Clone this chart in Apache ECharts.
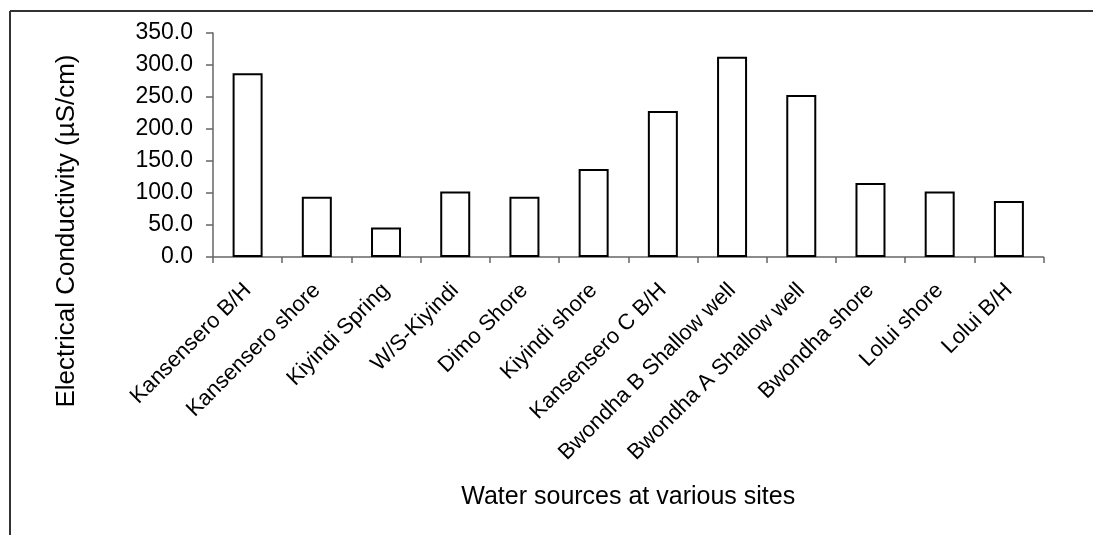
<!DOCTYPE html>
<html>
<head>
<meta charset="utf-8">
<script src="https://cdn.jsdelivr.net/npm/echarts@6/dist/echarts.min.js"></script>
<style>html,body{margin:0;padding:0;background:#fff;}#c{width:1093px;height:535px;}</style>
</head>
<body>
<div id="c"></div>
<script>
var categories = ['Kansensero B/H','Kansensero shore','Kiyindi Spring','W/S-Kiyindi','Dimo Shore','Kiyindi shore','Kansensero C B/H','Bwondha B Shallow well','Bwondha A Shallow well','Bwondha shore','Lolui shore','Lolui B/H'];
var conductivity = [287, 94, 46, 102.5, 94, 137.5, 228, 313, 253, 115.5, 102.5, 87.5];
var yTitle = 'Electrical Conductivity (µS/cm)';
var xTitle = 'Water sources at various sites';

var chart = echarts.init(document.getElementById('c'), null, {renderer: 'canvas'});
var font = 'Liberation Sans, Arial, sans-serif';
chart.setOption({
  animation: false,
  backgroundColor: '#fff',
  grid: {left: 213, right: 49.5, top: 33, bottom: 278, containLabel: false},
  xAxis: {
    type: 'category',
    data: categories,
    boundaryGap: true,
    name: xTitle,
    nameLocation: 'middle',
    nameGap: 228,
    nameTextStyle: {fontFamily: font, fontSize: 25, color: '#000'},
    axisLine: {lineStyle: {color: '#666', width: 1.5}},
    axisTick: {show: true, length: 6, inside: false, alignWithLabel: false, lineStyle: {color: '#666', width: 1.5}},
    axisLabel: {rotate: 45, interval: 0, margin: 30, fontFamily: font, fontSize: 22, color: '#000'},
    splitLine: {show: false}
  },
  yAxis: {
    type: 'value',
    min: 0, max: 350, interval: 50,
    name: yTitle,
    nameLocation: 'middle',
    nameGap: 133,
    nameTextStyle: {fontFamily: font, fontSize: 26, color: '#000', padding: [0, 172, 0, 0]},
    axisLine: {show: true, lineStyle: {color: '#666', width: 1.5}},
    axisTick: {show: true, length: 7, lineStyle: {color: '#666', width: 1.5}},
    axisLabel: {margin: 20, fontFamily: font, fontSize: 23, color: '#000', formatter: function (v) { return v.toFixed(1); }},
    splitLine: {show: false}
  },
  series: [{
    type: 'bar',
    data: conductivity,
    barWidth: 30,
    itemStyle: {color: '#fff', borderColor: '#000', borderWidth: 2}
  }],
  graphic: [
    {type: 'line', shape: {x1: 10, y1: 11, x2: 1093, y2: 11}, style: {stroke: '#333', lineWidth: 2}},
    {type: 'line', shape: {x1: 10, y1: 11, x2: 10, y2: 535}, style: {stroke: '#333', lineWidth: 2}}
  ]
});
</script>
</body>
</html>
